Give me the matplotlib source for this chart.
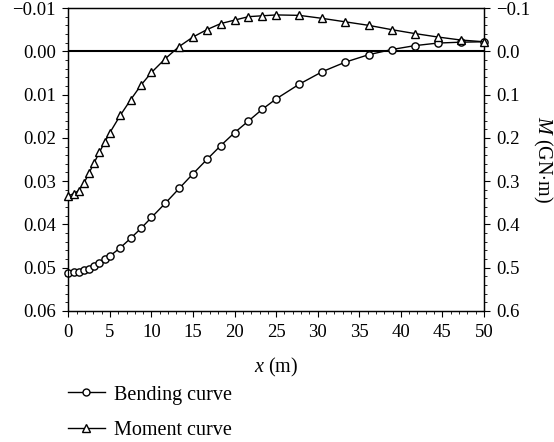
import matplotlib
matplotlib.use("Agg")
import matplotlib.pyplot as plt
from matplotlib.ticker import MultipleLocator, FuncFormatter
from matplotlib.lines import Line2D

plt.rcParams['font.family'] = ['Liberation Serif', 'DejaVu Serif']
plt.rcParams['mathtext.fontset'] = 'custom'
plt.rcParams['mathtext.it'] = 'Liberation Serif:italic'
plt.rcParams['mathtext.rm'] = 'Liberation Serif'

# Bending curve (left axis)
bend_x = [0, 0.625, 1.25, 1.875, 2.5, 3.125, 3.75, 4.375, 5, 6.25, 7.5, 8.75,
          10, 11.67, 13.33, 15, 16.67, 18.33, 20, 21.67, 23.33, 25,
          27.78, 30.56, 33.33, 36.11, 38.89, 41.67, 44.44, 47.22, 50]
bend_y = [0.0512, 0.0511, 0.0509, 0.0506, 0.0502, 0.0495, 0.0488, 0.0481, 0.0473,
          0.0454, 0.0432, 0.0409, 0.0384, 0.0351, 0.0317, 0.0283, 0.0250, 0.0218,
          0.0188, 0.0161, 0.0134, 0.0110, 0.0076, 0.0047, 0.0025, 0.0008, -0.0004,
          -0.0013, -0.0019, -0.0021, -0.0022]

# Moment curve (right axis)
mom_x = bend_x
mom_y = [0.334, 0.329, 0.322, 0.305, 0.281, 0.257, 0.233, 0.210, 0.188, 0.148,
         0.112, 0.078, 0.049, 0.017, -0.011, -0.033, -0.050, -0.064, -0.072,
         -0.080, -0.082, -0.084, -0.083, -0.076, -0.068, -0.060, -0.050, -0.041,
         -0.033, -0.026, -0.022]

TICK_FS = 13.5
LAB_FS = 14.5

fig = plt.figure(figsize=(5.54, 4.42), dpi=100)
ax = fig.add_axes([0.1233, 0.2964, 0.7503, 0.6855])
ax2 = ax.twinx()

ax.axhline(0, color='black', lw=1.5, zorder=1)

mk = dict(color='black', lw=1.0, markerfacecolor='white', markeredgecolor='black',
          markeredgewidth=1.0)
ax.plot(bend_x, bend_y, marker='o', markersize=5.2, zorder=3, clip_on=False, **mk)
ax2.plot(mom_x, mom_y, marker='^', markersize=6.3, zorder=3, clip_on=False, **mk)

ax.set_xlim(0, 50)
ax.set_ylim(0.06, -0.01)
ax2.set_ylim(0.6, -0.1)


def fmt(nd):
    def f(v, pos):
        s = f"{v:.{nd}f}"
        if s.startswith('-'):
            if float(s) == 0:
                s = s[1:]
            else:
                s = '\u2212' + s[1:]
        return s
    return FuncFormatter(f)


ax.xaxis.set_major_locator(MultipleLocator(5))
ax.xaxis.set_minor_locator(MultipleLocator(1))
ax.yaxis.set_major_locator(MultipleLocator(0.01))
ax.yaxis.set_minor_locator(MultipleLocator(0.002))
ax.yaxis.set_major_formatter(fmt(2))
ax2.yaxis.set_major_locator(MultipleLocator(0.1))
ax2.yaxis.set_minor_locator(MultipleLocator(0.02))
ax2.yaxis.set_major_formatter(fmt(1))

for a in (ax, ax2):
    a.tick_params(which='major', direction='out', length=4.3, width=0.8,
                  labelsize=TICK_FS, pad=4.5)
    a.tick_params(which='minor', direction='out', length=2.4, width=0.6)
    for s in a.spines.values():
        s.set_linewidth(0.9)
ax.tick_params(axis='y', which='both', right=False)
ax.tick_params(axis='x', which='both', top=False)
ax.tick_params(axis='x', which='major', pad=5)

ax.set_xlabel(r'$x$ (m)', fontsize=LAB_FS, labelpad=11)
ax2.set_ylabel(r'$M$ (GN$\cdot$m)', fontsize=LAB_FS, rotation=270, labelpad=17)

handles = [
    Line2D([], [], marker='o', markersize=5, **mk),
    Line2D([], [], marker='^', markersize=6, **mk),
]
fig.legend(handles, ['Bending curve', 'Moment curve'], loc='upper left',
           bbox_to_anchor=(0.122, 0.128), frameon=False, fontsize=LAB_FS,
           handlelength=1.85, labelspacing=0.8, handletextpad=0.45,
           borderaxespad=0, borderpad=0)

fig.savefig('out.png', dpi=100)
